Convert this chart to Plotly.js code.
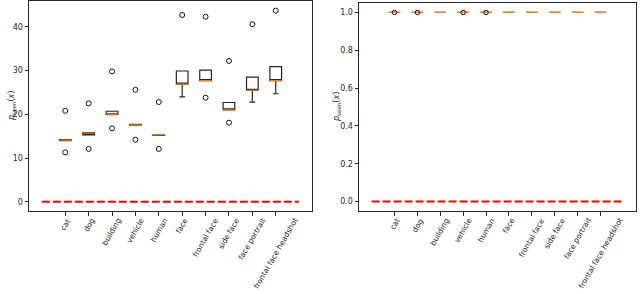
<!DOCTYPE html>
<html>
<head>
<meta charset="utf-8">
<script src="https://cdn.plot.ly/plotly-3.0.1.min.js"></script>
<style>html,body{margin:0;padding:0;background:#fff;}#chart{width:640px;height:294px;}</style>
</head>
<body>
<div id="chart"></div>
<script>
// ---- data ----
var categories = ['cat', 'dog', 'building', 'vehicle', 'human', 'face', 'frontal face', 'side face', 'face portrait', 'frontal face headshot'];
var positions = [1, 2, 3, 4, 5, 6, 7, 8, 9, 10];

// left panel (scores)
var leftQ1     = [14.0, 15.3, 19.9, 17.5, 15.2, 26.9, 27.7, 21.0, 25.5, 27.7];
var leftMedian = [14.1, 15.7, 20.0, 17.6, 15.3, 26.9, 27.7, 21.0, 25.5, 27.7];
var leftQ3     = [14.2, 15.8, 20.7, 17.7, 15.3, 29.9, 30.1, 22.7, 28.5, 30.9];
var leftLowerWhisker = [14.0, 15.3, 19.9, 17.5, 15.2, 24.0, 27.7, 21.0, 22.8, 24.7];
var leftUpperWhisker = [14.2, 15.8, 20.7, 17.7, 15.3, 29.9, 30.1, 22.7, 28.5, 30.9];
var leftOutliers = [[20.8, 11.3], [22.5, 12.1], [29.8, 16.8], [25.6, 14.2], [22.8, 12.1],
                    [42.7], [42.3, 23.8], [32.2, 18.1], [40.6], [43.7]];

// right panel (probabilities)
var rightQ1     = [1.0, 1.0, 1.0, 1.0, 1.0, 1.0, 1.0, 1.0, 1.0, 1.0];
var rightMedian = [1.0, 1.0, 1.0, 1.0, 1.0, 1.0, 1.0, 1.0, 1.0, 1.0];
var rightQ3     = [1.0, 1.0, 1.0, 1.0, 1.0, 1.0, 1.0, 1.0, 1.0, 1.0];
var rightOutliers = [[1.0], [1.0], [], [1.0], [1.0], [], [], [], [], []];

// reference (baseline) line
var refX = [0, 11];
var refY = [0, 0];

var yTitle = '<i>p</i><sub>seen</sub>(<i>x</i>)';
var leftTicks = [0, 10, 20, 30, 40];
var rightTicks = [0, 0.2, 0.4, 0.6, 0.8, 1.0];

// ---- build ----
var FONT = 'DejaVu Sans, sans-serif';
var ORANGE = '#ff7f0e';
var INK = '#262626';

function flatten(outs) {
  var xs = [], ys = [];
  outs.forEach(function (arr, i) { arr.forEach(function (v) { xs.push(positions[i]); ys.push(v); }); });
  return {x: xs, y: ys};
}

function panel(xa, ya, q1, med, q3, lo, hi, outs, outSize) {
  var o = flatten(outs);
  return [
    {type: 'box', xaxis: xa, yaxis: ya, x: positions, q1: q1, median: med, q3: q3,
     lowerfence: lo, upperfence: hi, width: 0.5, whiskerwidth: 0.5,
     line: {color: INK, width: 1.2}, fillcolor: 'rgba(0,0,0,0)', boxpoints: false,
     hoverinfo: 'skip', showlegend: false},
    {type: 'box', xaxis: xa, yaxis: ya, x: positions, q1: med, median: med, q3: med,
     lowerfence: med, upperfence: med, width: 0.5, whiskerwidth: 0,
     line: {color: ORANGE, width: 1.2}, fillcolor: 'rgba(0,0,0,0)', boxpoints: false,
     hoverinfo: 'skip', showlegend: false},
    {type: 'scatter', mode: 'lines', xaxis: xa, yaxis: ya, x: refX, y: refY,
     line: {color: 'red', width: 2, dash: '8px,3px'}, hoverinfo: 'skip', showlegend: false},
    {type: 'scatter', mode: 'markers', xaxis: xa, yaxis: ya, x: o.x, y: o.y,
     marker: {symbol: 'circle-open', size: outSize, color: '#111', line: {width: 1, color: '#111'}},
     hoverinfo: 'skip', showlegend: false}
  ];
}

var data = [].concat(
  panel('x', 'y', leftQ1, leftMedian, leftQ3, leftLowerWhisker, leftUpperWhisker, leftOutliers, 5),
  panel('x2', 'y2', rightQ1, rightMedian, rightQ3, rightQ1, rightQ3, rightOutliers, 4.5)
);

function xAxis(domain, anchor) {
  return {domain: domain, anchor: anchor, range: [-0.55, 11.55], tickvals: positions, showticklabels: false,
          ticks: 'outside', ticklen: 3.5, tickcolor: INK, tickwidth: 1,
          showline: true, mirror: true, linecolor: INK, linewidth: 1,
          showgrid: false, zeroline: false, fixedrange: true};
}
function yAxis(domain, range, tickvals, ticktext, anchor) {
  return {domain: domain, range: range, anchor: anchor, tickvals: tickvals, ticktext: ticktext,
          ticks: 'outside', ticklen: 3.5, tickcolor: INK, tickwidth: 1,
          tickfont: {family: FONT, size: 8, color: INK},
          showline: true, mirror: true, linecolor: INK, linewidth: 1,
          showgrid: false, zeroline: false, fixedrange: true};
}

var PLOT_W = 640 - 29 - 4;
var annotations = [];
['x', 'x2'].forEach(function (xr) {
  categories.forEach(function (c, i) {
    annotations.push({text: c, x: positions[i], xref: xr, y: 0, yref: 'paper',
      xanchor: 'center', yanchor: 'top', textangle: -60, showarrow: false, yshift: -3,
      font: {family: FONT, size: 7.5, color: INK}});
  });
});
// y-axis titles
annotations.push({text: yTitle, xref: 'paper', yref: 'paper', x: (12 - 29) / PLOT_W, y: 0.5,
  xanchor: 'center', yanchor: 'middle', textangle: -90, showarrow: false,
  font: {family: FONT, size: 8, color: INK}});
annotations.push({text: yTitle, xref: 'paper', yref: 'paper', x: (337 - 29) / PLOT_W, y: 0.495,
  xanchor: 'center', yanchor: 'middle', textangle: -90, showarrow: false,
  font: {family: FONT, size: 8, color: INK}});

var layout = {
  width: 640, height: 294,
  margin: {l: 29, r: 4, t: 1, b: 83},
  paper_bgcolor: '#fff', plot_bgcolor: '#fff',
  boxmode: 'overlay',
  showlegend: false,
  xaxis: xAxis([0, 0.4662], 'y'),
  yaxis: yAxis([0, 1], [-2.1, 45.9], leftTicks, leftTicks.map(String), 'x'),
  xaxis2: xAxis([0.5437, 1], 'y2'),
  yaxis2: yAxis([0, 0.9905], [-0.05, 1.05], rightTicks, rightTicks.map(function (v) { return v.toFixed(1); }), 'x2'),
  annotations: annotations
};

Plotly.newPlot('chart', data, layout, {displayModeBar: false, staticPlot: true});
</script>
</body>
</html>
